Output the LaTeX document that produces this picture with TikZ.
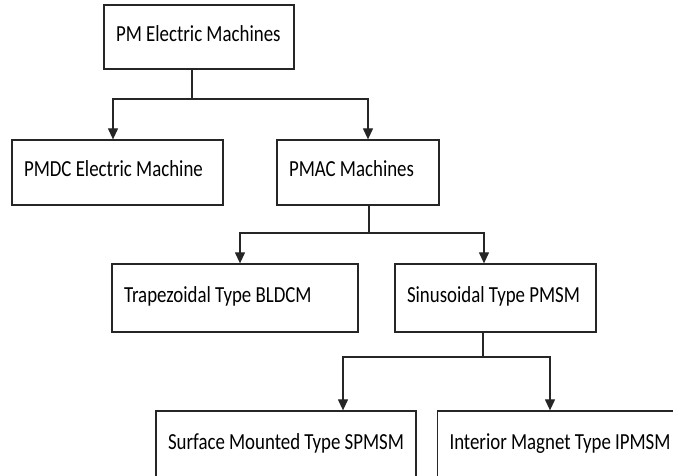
\documentclass[tikz,border=0pt]{standalone}
\usepackage{fontspec}
\setmainfont{Carlito}[FakeStretch=0.82]
\usepackage{tikz}
\usetikzlibrary{arrows.meta}

\tikzset{
    mbox/.style={draw=black!85, line width=1.3pt, inner xsep=12pt, inner ysep=0pt,
        text height=16pt, text depth=8pt,
        align=flush left, font=\fontsize{23}{27}\selectfont},
    link/.style={draw=black!85, line width=1.2pt},
    arr/.style={link, -{Triangle[width=10pt,length=11pt]}}
}

\begin{document}
\begin{tikzpicture}[x=1pt, y=-1pt]
    \useasboundingbox (0,0) rectangle (673,475);
    \clip (0,0) rectangle (673,475);
    \node [mbox, text width=166, minimum height=64] (pm) at (199,37) {PM Electric Machines};
    \node [mbox, text width=187, minimum height=65] (pmdc) at (117.5,172.5) {PMDC Electric Machine};
    \node [mbox, text width=138, minimum height=65] (pmac) at (358,172.5) {PMAC Machines};
    \node [mbox, text width=222, minimum height=68] (trap) at (235,298) {Trapezoidal Type BLDCM};
    \node [mbox, text width=177, minimum height=68] (sinu) at (495.5,298) {Sinusoidal Type PMSM};
    \node [mbox, text width=236, minimum height=68] (spmsm) at (286,445) {Surface Mounted Type SPMSM};
    \node [mbox, text width=221, minimum height=68] (ipmsm) at (560,445) {Interior Magnet Type IPMSM};
    \coordinate (j1) at (192,99);
    \coordinate (j2) at (369,233);
    \coordinate (j3) at (483,357);
    \draw [link] ([xshift=-7]pm.south) -- (j1);
    \draw [arr] (j1) -| ([xshift=-4.5]pmdc.north);
    \draw [arr] (j1) -| ([xshift=10]pmac.north);
    \draw [link] ([xshift=11]pmac.south) -- (j2);
    \draw [arr] (j2) -| ([xshift=5]trap.north);
    \draw [arr] (j2) -| ([xshift=-11.5]sinu.north);
    \draw [link] ([xshift=-12.5]sinu.south) -- (j3);
    \draw [arr] (j3) -| ([xshift=57]spmsm.north);
    \draw [arr] (j3) -| ([xshift=-10]ipmsm.north);
\end{tikzpicture}
\end{document}
